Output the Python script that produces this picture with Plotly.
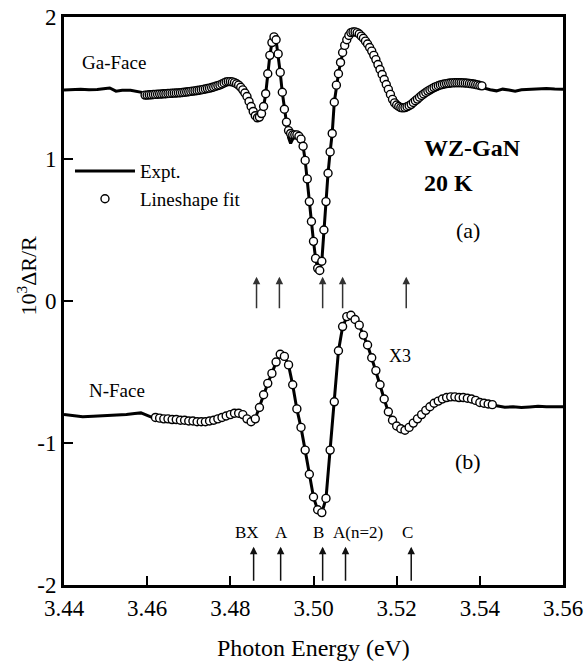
import plotly.graph_objects as go

# ---------------- data ----------------
# Ga-Face (a): lineshape fit (open circles)
ga_fit_e = [3.4595, 3.4600, 3.4605, 3.4610, 3.4615, 3.4620, 3.4625, 3.4630, 3.4635, 3.4640,
            3.4645, 3.4650, 3.4655, 3.4660, 3.4665, 3.4670, 3.4675, 3.4680, 3.4685, 3.4690,
            3.4695, 3.4700, 3.4705, 3.4710, 3.4715, 3.4720, 3.4725, 3.4730, 3.4735, 3.4740,
            3.4745, 3.4750, 3.4755, 3.4760, 3.4765, 3.4770, 3.4775, 3.4780, 3.4785, 3.4790,
            3.4795, 3.4800, 3.4805, 3.4810, 3.4815, 3.4820, 3.4825, 3.4830, 3.4835, 3.4840,
            3.4845, 3.4850, 3.4855, 3.4860, 3.4865, 3.4870, 3.4875, 3.4880, 3.4885, 3.4890,
            3.4895, 3.4900, 3.4905, 3.4910, 3.4915, 3.4920, 3.4925, 3.4930, 3.4935, 3.4940,
            3.4945, 3.4950, 3.4955, 3.4960, 3.4965, 3.4970, 3.4975, 3.4980, 3.4985, 3.4990,
            3.4995, 3.5000, 3.5005, 3.5010, 3.5015, 3.5020, 3.5025, 3.5030, 3.5035, 3.5040,
            3.5045, 3.5050, 3.5055, 3.5060, 3.5065, 3.5070, 3.5075, 3.5080, 3.5085, 3.5090,
            3.5095, 3.5100, 3.5105, 3.5110, 3.5115, 3.5120, 3.5125, 3.5130, 3.5135, 3.5140,
            3.5145, 3.5150, 3.5155, 3.5160, 3.5165, 3.5170, 3.5175, 3.5180, 3.5185, 3.5190,
            3.5195, 3.5200, 3.5205, 3.5210, 3.5215, 3.5220, 3.5225, 3.5230, 3.5235, 3.5240,
            3.5245, 3.5250, 3.5255, 3.5260, 3.5265, 3.5270, 3.5275, 3.5280, 3.5285, 3.5290,
            3.5295, 3.5300, 3.5305, 3.5310, 3.5315, 3.5320, 3.5325, 3.5330, 3.5335, 3.5340,
            3.5345, 3.5350, 3.5355, 3.5360, 3.5365, 3.5370, 3.5375, 3.5380, 3.5385, 3.5390,
            3.5395, 3.5400, 3.5405]
ga_fit_r = [1.450, 1.450, 1.452, 1.452, 1.454, 1.455, 1.456, 1.457, 1.458, 1.459,
            1.460, 1.461, 1.462, 1.463, 1.464, 1.465, 1.466, 1.467, 1.468, 1.470,
            1.472, 1.474, 1.476, 1.478, 1.480, 1.482, 1.484, 1.487, 1.490, 1.493,
            1.496, 1.499, 1.503, 1.507, 1.512, 1.517, 1.522, 1.528, 1.535, 1.542,
            1.545, 1.545, 1.543, 1.538, 1.530, 1.520, 1.505, 1.487, 1.465, 1.440,
            1.405, 1.370, 1.335, 1.305, 1.290, 1.295, 1.320, 1.370, 1.460, 1.600,
            1.730, 1.820, 1.860, 1.840, 1.740, 1.610, 1.470, 1.350, 1.260, 1.200,
            1.180, 1.170, 1.170, 1.170, 1.160, 1.140, 1.090, 0.990, 0.860, 0.700,
            0.560, 0.420, 0.300, 0.230, 0.215, 0.280, 0.500, 0.700, 0.900, 1.050,
            1.180, 1.400, 1.520, 1.600, 1.680, 1.750, 1.800, 1.840, 1.870, 1.890,
            1.895, 1.895, 1.890, 1.880, 1.865, 1.850, 1.830, 1.810, 1.785, 1.760,
            1.730, 1.700, 1.665, 1.630, 1.595, 1.560, 1.525, 1.490, 1.455, 1.420,
            1.395, 1.380, 1.370, 1.362, 1.360, 1.362, 1.368, 1.375, 1.385, 1.398,
            1.410, 1.422, 1.435, 1.447, 1.458, 1.468, 1.478, 1.487, 1.495, 1.503,
            1.510, 1.516, 1.521, 1.525, 1.528, 1.531, 1.533, 1.535, 1.536, 1.537,
            1.537, 1.537, 1.537, 1.536, 1.535, 1.534, 1.532, 1.530, 1.528, 1.525,
            1.522, 1.518, 1.515]

# Ga-Face (a): experiment (solid line)
ga_exp_e = [3.440, 3.442, 3.444, 3.446, 3.448, 3.450, 3.451, 3.4525, 3.454, 3.456, 3.458, 3.460,
            3.461, 3.462, 3.463, 3.464, 3.465, 3.466, 3.467, 3.468, 3.469, 3.470, 3.471,
            3.472, 3.473, 3.474, 3.475, 3.476, 3.477, 3.478, 3.479, 3.480, 3.481, 3.482,
            3.4825, 3.4830, 3.4835, 3.4840, 3.4845, 3.4850, 3.4855, 3.4860, 3.4865, 3.4870,
            3.4875, 3.4880, 3.4885, 3.4890, 3.4895, 3.4900, 3.4905, 3.4910, 3.4915, 3.4920,
            3.4925, 3.4930, 3.4935, 3.4940, 3.4945, 3.4950, 3.4955, 3.4960, 3.4965, 3.4970,
            3.4975, 3.4980, 3.4985, 3.4990, 3.4995, 3.5000, 3.5005, 3.5010, 3.5015, 3.5020,
            3.5025, 3.5030, 3.5035, 3.5040, 3.5045, 3.5050, 3.5055, 3.5060, 3.5065, 3.5070,
            3.5075, 3.5080, 3.5085, 3.5090, 3.5095, 3.5100, 3.5105, 3.5110,
            3.512, 3.513, 3.514, 3.515, 3.516, 3.517, 3.518, 3.519, 3.520, 3.521, 3.522,
            3.523, 3.524, 3.525, 3.526, 3.527, 3.528, 3.529, 3.530, 3.531, 3.532, 3.533,
            3.534, 3.535, 3.536, 3.537, 3.538, 3.539, 3.540, 3.541,
            3.5425, 3.544, 3.5455, 3.547, 3.5485, 3.550, 3.552, 3.554, 3.556, 3.558, 3.560]
ga_exp_r = [1.486, 1.490, 1.492, 1.487, 1.489, 1.497, 1.500, 1.478, 1.484, 1.484, 1.475, 1.462,
            1.455, 1.452, 1.455, 1.460, 1.461, 1.465, 1.464, 1.470, 1.468, 1.474, 1.478,
            1.483, 1.487, 1.494, 1.499, 1.508, 1.518, 1.530, 1.540, 1.546, 1.538, 1.518,
            1.503, 1.485, 1.463, 1.438, 1.403, 1.368, 1.333, 1.303, 1.288, 1.293,
            1.318, 1.368, 1.458, 1.598, 1.728, 1.818, 1.858, 1.838, 1.738, 1.608,
            1.468, 1.348, 1.258, 1.150, 1.110, 1.140, 1.170, 1.172, 1.162, 1.140,
            1.090, 0.990, 0.860, 0.700, 0.560, 0.420, 0.300, 0.230, 0.215, 0.280,
            0.500, 0.700, 0.900, 1.050, 1.180, 1.400, 1.520, 1.600, 1.680, 1.750,
            1.800, 1.840, 1.870, 1.890, 1.895, 1.893, 1.888, 1.880,
            1.852, 1.812, 1.762, 1.702, 1.632, 1.562, 1.492, 1.425, 1.382, 1.365, 1.362,
            1.370, 1.395, 1.420, 1.445, 1.465, 1.485, 1.500, 1.512, 1.522, 1.528, 1.532,
            1.535, 1.534, 1.533, 1.530, 1.524, 1.516, 1.508, 1.498,
            1.488, 1.480, 1.492, 1.486, 1.478, 1.488, 1.492, 1.496, 1.497, 1.493, 1.492]

# N-Face (b): lineshape fit (open circles)
n_fit_e = [3.462, 3.463, 3.464, 3.465, 3.466, 3.467, 3.468, 3.469, 3.470, 3.471,
           3.472, 3.473, 3.474, 3.475, 3.476, 3.477, 3.478, 3.479, 3.480, 3.481,
           3.482, 3.483, 3.484, 3.485, 3.486, 3.487, 3.488, 3.489, 3.490, 3.491,
           3.492, 3.493, 3.494, 3.495, 3.496, 3.497, 3.498, 3.499, 3.500, 3.501,
           3.502, 3.503, 3.504, 3.505, 3.506, 3.507, 3.508, 3.509, 3.510, 3.511,
           3.512, 3.513, 3.514, 3.515, 3.516, 3.517, 3.518, 3.519, 3.520, 3.521,
           3.522, 3.523, 3.524, 3.525, 3.526, 3.527, 3.528, 3.529, 3.530, 3.531,
           3.532, 3.533, 3.534, 3.535, 3.536, 3.537, 3.538, 3.539, 3.540, 3.541,
           3.542, 3.543]
n_fit_r = [-0.820, -0.825, -0.830, -0.830, -0.835, -0.835, -0.840, -0.840, -0.845, -0.845,
           -0.850, -0.850, -0.850, -0.845, -0.840, -0.830, -0.820, -0.810, -0.800, -0.790,
           -0.790, -0.800, -0.830, -0.850, -0.830, -0.750, -0.660, -0.580, -0.510, -0.430,
           -0.375, -0.390, -0.450, -0.590, -0.760, -0.890, -1.050, -1.220, -1.380, -1.470,
           -1.490, -1.390, -1.050, -0.710, -0.350, -0.180, -0.110, -0.100, -0.130, -0.170,
           -0.240, -0.310, -0.400, -0.490, -0.590, -0.690, -0.780, -0.840, -0.880, -0.900,
           -0.910, -0.890, -0.860, -0.830, -0.800, -0.770, -0.745, -0.720, -0.705, -0.690,
           -0.680, -0.675, -0.675, -0.680, -0.680, -0.685, -0.690, -0.700, -0.715, -0.720,
           -0.725, -0.730]

# N-Face (b): experiment (solid line)
n_exp_e = [3.440, 3.442, 3.4445, 3.447, 3.450, 3.453, 3.455, 3.457, 3.4585, 3.460, 3.461,
           3.462, 3.463, 3.464, 3.465, 3.466, 3.467, 3.468, 3.469, 3.470, 3.471,
           3.472, 3.473, 3.474, 3.475, 3.476, 3.477, 3.478, 3.479, 3.480, 3.481,
           3.482, 3.483, 3.484, 3.485, 3.486, 3.487, 3.488, 3.489, 3.490, 3.491,
           3.492, 3.493, 3.494, 3.495, 3.496, 3.497, 3.498, 3.499, 3.500, 3.501,
           3.502, 3.503, 3.504, 3.505, 3.506, 3.507, 3.508, 3.509, 3.510, 3.511,
           3.512, 3.513, 3.514, 3.515, 3.516, 3.517, 3.518, 3.519, 3.520, 3.521,
           3.522, 3.523, 3.524, 3.525, 3.526, 3.527, 3.528, 3.529, 3.530, 3.531,
           3.532, 3.533, 3.534, 3.535, 3.536, 3.537, 3.538, 3.539, 3.540, 3.541,
           3.542, 3.543, 3.544, 3.546, 3.548, 3.550, 3.552, 3.554, 3.556, 3.558, 3.560]
n_exp_r = [-0.800, -0.805, -0.815, -0.812, -0.808, -0.806, -0.800, -0.792, -0.788, -0.805, -0.818,
           -0.822, -0.826, -0.830, -0.832, -0.836, -0.838, -0.842, -0.842, -0.846, -0.848,
           -0.851, -0.852, -0.851, -0.846, -0.840, -0.832, -0.822, -0.812, -0.802, -0.792,
           -0.792, -0.802, -0.828, -0.848, -0.828, -0.752, -0.662, -0.582, -0.512, -0.432,
           -0.378, -0.392, -0.452, -0.592, -0.762, -0.892, -1.052, -1.222, -1.382, -1.472,
           -1.492, -1.392, -1.052, -0.712, -0.352, -0.182, -0.112, -0.102, -0.132, -0.172,
           -0.242, -0.312, -0.402, -0.492, -0.592, -0.692, -0.782, -0.842, -0.882, -0.902,
           -0.912, -0.892, -0.862, -0.832, -0.802, -0.772, -0.747, -0.722, -0.707, -0.692,
           -0.682, -0.677, -0.677, -0.682, -0.682, -0.687, -0.692, -0.702, -0.717, -0.722,
           -0.727, -0.732, -0.738, -0.748, -0.745, -0.750, -0.746, -0.742, -0.745, -0.744, -0.745]

# transition markers (arrows)
arrow_e_a = [3.4863, 3.4918, 3.5022, 3.5070, 3.5223]
arrow_e_b = [3.4856, 3.4921, 3.5022, 3.5077, 3.5235]
arrow_labels = ["BX", "A", "B", "A(n=2)", "C"]
arrow_label_e = [3.4839, 3.4923, 3.5012, 3.5108, 3.5226]

x_ticks = [3.44, 3.46, 3.48, 3.50, 3.52, 3.54, 3.56]
x_tick_text = ["3.44", "3.46", "3.48", "3.50", "3.52", "3.54", "3.56"]
y_ticks = [-2, -1, 0, 1, 2]
y_tick_text = ["-2", "-1", "0", "1", "2"]

# ---------------- figure ----------------
SERIF = "Liberation Serif"
fig = go.Figure()

fig.add_trace(go.Scatter(x=ga_exp_e, y=ga_exp_r, mode="lines", name="Expt.",
                         line=dict(color="black", width=3), showlegend=True))
fig.add_trace(go.Scatter(x=n_exp_e, y=n_exp_r, mode="lines", name="Expt.",
                         line=dict(color="black", width=3), showlegend=False))
fig.add_trace(go.Scatter(x=ga_fit_e, y=ga_fit_r, mode="markers", name="Lineshape fit",
                         marker=dict(symbol="circle", size=8, color="white",
                                     line=dict(color="black", width=1.4)), showlegend=True))
fig.add_trace(go.Scatter(x=n_fit_e, y=n_fit_r, mode="markers", name="Lineshape fit",
                         marker=dict(symbol="circle", size=8, color="white",
                                     line=dict(color="black", width=1.4)), showlegend=False))

annotations = []
for e in arrow_e_a:
    annotations.append(dict(x=e, y=0.17, ax=e, ay=-0.065, xref="x", yref="y", axref="x", ayref="y",
                            showarrow=True, arrowhead=2, arrowsize=1, arrowwidth=1.5,
                            arrowcolor="#333", text=" ", font=dict(size=1)))
for e in arrow_e_b:
    annotations.append(dict(x=e, y=-1.73, ax=e, ay=-1.985, xref="x", yref="y", axref="x", ayref="y",
                            showarrow=True, arrowhead=2, arrowsize=1, arrowwidth=1.5,
                            arrowcolor="#111", text=" ", font=dict(size=1)))
for lab, e in zip(arrow_labels, arrow_label_e):
    annotations.append(dict(x=e, y=-1.63, xref="x", yref="y", text=lab, showarrow=False,
                            font=dict(family=SERIF, size=17, color="black")))

texts = [
    dict(x=3.4438, y=1.68, text="Ga-Face", xanchor="left", size=19),
    dict(x=3.4455, y=-0.63, text="N-Face", xanchor="left", size=19),
    dict(x=3.5262, y=1.08, text="<b>WZ-GaN</b>", xanchor="left", size=24),
    dict(x=3.5262, y=0.83, text="<b>20 K</b>", xanchor="left", size=24),
    dict(x=3.5372, y=0.50, text="(a)", xanchor="center", size=22),
    dict(x=3.5372, y=-1.13, text="(b)", xanchor="center", size=22),
    dict(x=3.5209, y=-0.39, text="X3", xanchor="center", size=18),
]
for t in texts:
    annotations.append(dict(x=t["x"], y=t["y"], xref="x", yref="y", text=t["text"],
                            xanchor=t["xanchor"], yanchor="middle", showarrow=False,
                            font=dict(family=SERIF, size=t["size"], color="black")))

annotations.append(dict(x=-0.074, y=0.545, xref="paper", yref="paper",
                        xanchor="center", yanchor="middle",
                        text="10<sup>3</sup>ΔR/R", textangle=-90, showarrow=False,
                        font=dict(family=SERIF, size=22, color="black")))
annotations.append(dict(x=0.5, y=-0.111, xref="paper", yref="paper",
                        xanchor="center", yanchor="middle",
                        text="Photon Energy (eV)", showarrow=False,
                        font=dict(family=SERIF, size=24, color="black")))

fig.update_layout(
    width=586, height=668,
    margin=dict(l=64, r=23, t=17, b=83, autoexpand=False),
    paper_bgcolor="white", plot_bgcolor="white",
    font=dict(family=SERIF, color="black"),
    annotations=annotations,
    legend=dict(x=0.012, y=0.762, xanchor="left", yanchor="top",
                bgcolor="rgba(0,0,0,0)", borderwidth=0,
                font=dict(family=SERIF, size=19, color="black"),
                itemwidth=60, tracegroupgap=0),
    xaxis=dict(range=[3.44, 3.56], tickvals=x_ticks, ticktext=x_tick_text,
               ticks="inside", ticklen=9, tickwidth=2, tickcolor="black",
               showline=True, linewidth=3, linecolor="black", mirror=True,
               showgrid=False, zeroline=False, automargin=False,
               tickfont=dict(family=SERIF, size=23, color="black")),
    yaxis=dict(range=[-2, 2], tickvals=y_ticks, ticktext=y_tick_text,
               ticks="inside", ticklen=9, tickwidth=2, tickcolor="black",
               showline=True, linewidth=3, linecolor="black", mirror=True,
               showgrid=False, zeroline=False, automargin=False,
               tickfont=dict(family=SERIF, size=23, color="black")),
)

fig.write_html("out.html", config={"displayModeBar": False},
               post_script="document.body.style.margin='0';document.body.style.overflow='hidden';")
